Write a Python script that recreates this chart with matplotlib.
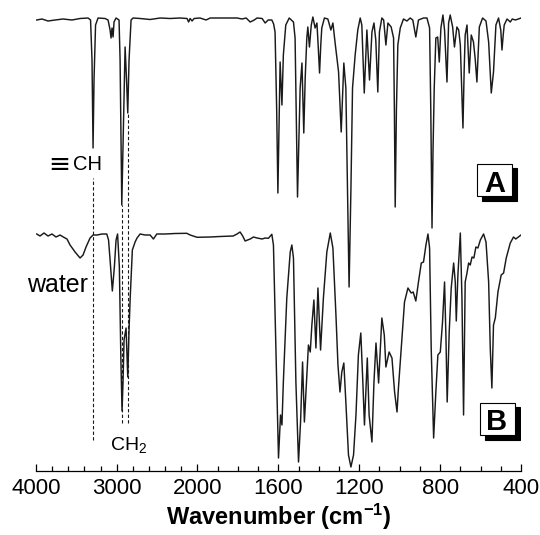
import numpy as np
import matplotlib
matplotlib.use("Agg")
import matplotlib.pyplot as plt
from matplotlib.patches import Rectangle
from matplotlib.ticker import FixedLocator, NullFormatter

# FTIR spectra (transmittance in arbitrary units, B below A)
A_wn = [3991, 3926, 3851, 3764, 3665, 3554, 3454, 3355, 3324, 3306,
        3293, 3281, 3262, 3231, 3144, 3107, 3082, 3070, 3058, 3045,
        3033, 3008, 2971, 2958, 2937, 2915, 2896, 2878, 2863, 2847,
        2822, 2797, 2710, 2586, 2462, 2338, 2214, 2128, 2109, 2090,
        2066, 2041, 1987, 1957, 1937, 1888, 1838, 1804, 1779, 1759,
        1739, 1719, 1705, 1680, 1665, 1650, 1632, 1623, 1616, 1608,
        1602, 1596, 1591, 1582, 1575, 1563, 1546, 1525, 1517, 1511,
        1505, 1498, 1492, 1483, 1474, 1467, 1459, 1454, 1446, 1437,
        1429, 1418, 1409, 1403, 1396, 1390, 1385, 1372, 1355, 1340,
        1330, 1319, 1302, 1289, 1276, 1266, 1258, 1250, 1241, 1233,
        1220, 1207, 1195, 1187, 1175, 1162, 1149, 1137, 1127, 1118,
        1108, 1100, 1088, 1079, 1068, 1058, 1042, 1030, 1026, 1022,
        1016, 1009, 997, 981, 964, 948, 935, 920, 907, 882,
        865, 852, 846, 840, 835, 829, 821, 812, 804, 796,
        786, 778, 766, 758, 750, 738, 729, 717, 708, 700,
        693, 687, 681, 676, 667, 656, 646, 635, 626, 618,
        606, 590, 573, 560, 547, 536, 524, 511, 500, 494,
        488, 483, 469, 453, 443, 428, 413, 400]
A_T = [451, 452, 450, 451, 452, 451, 452.5, 453, 451, 411,
       323, 391, 446, 453, 452.5, 451, 441, 433, 443, 434,
       449, 453, 451, 411, 266, 351, 424, 391, 358, 411,
       451, 453, 452.5, 451.5, 453, 452.5, 453, 452.5, 449, 452.5,
       450, 452.5, 453, 451, 453, 453, 453, 453, 452, 453,
       449, 451, 453, 452.5, 448, 451, 451, 447, 439, 361,
       278, 351, 409, 366, 416, 446, 453, 449, 433, 351,
       274, 331, 383, 408, 338, 393, 433, 444, 424, 446,
       454, 443, 448, 426, 398, 426, 443, 453, 452, 441,
       448, 428, 399, 339, 408, 383, 281, 184, 281, 383,
       416, 441, 453, 446, 378, 441, 391, 439, 448, 431,
       379, 439, 453, 451, 426, 448, 444, 433, 361, 264,
       361, 426, 443, 452, 450, 453, 451, 434, 451, 453,
       453, 443, 361, 243, 321, 383, 433, 434, 409, 443,
       456, 441, 389, 448, 456, 444, 424, 444, 441, 426,
       381, 343, 401, 436, 446, 398, 436, 429, 411, 389,
       444, 453, 450, 429, 378, 399, 446, 453, 441, 421,
       436, 446, 452, 449, 452, 451, 452, 453]

B_wn = [3991, 3950, 3901, 3851, 3802, 3752, 3702, 3662, 3616, 3578,
        3516, 3454, 3417, 3380, 3330, 3293, 3244, 3182, 3123, 3101,
        3082, 3054, 3029, 3008, 2989, 2967, 2948, 2934, 2921, 2909,
        2884, 2863, 2847, 2834, 2806, 2772, 2748, 2710, 2648, 2586,
        2545, 2503, 2400, 2276, 2131, 2090, 2003, 1937, 1888, 1823,
        1804, 1789, 1776, 1764, 1739, 1723, 1705, 1680, 1665, 1649,
        1632, 1624, 1612, 1599, 1589, 1582, 1575, 1558, 1541, 1533,
        1525, 1513, 1500, 1490, 1480, 1471, 1459, 1451, 1442, 1434,
        1424, 1414, 1404, 1391, 1377, 1360, 1343, 1330, 1315, 1305,
        1295, 1286, 1276, 1266, 1253, 1241, 1228, 1216, 1204, 1192,
        1182, 1174, 1160, 1151, 1137, 1127, 1117, 1104, 1088, 1076,
        1068, 1052, 1038, 1025, 1013, 1006, 992, 976, 959, 943,
        933, 920, 907, 893, 882, 870, 860, 852, 844, 832,
        821, 811, 799, 788, 778, 771, 765, 755, 745, 733,
        725, 720, 712, 700, 692, 684, 676, 667, 659, 651,
        642, 633, 623, 613, 601, 585, 573, 560, 552, 544,
        536, 527, 514, 498, 486, 473, 453, 437, 426, 413,
        400]
B_T = [237, 235, 238, 235, 237, 234, 236, 234, 232, 226,
       219, 213, 216, 224, 233, 236, 236, 237, 237, 231,
       211, 180, 204, 231, 237, 204, 111, 60, 91, 131,
       143, 94, 141, 171, 221, 229, 233, 237, 236, 236,
       232, 237, 237, 237.5, 237.7, 236, 233.7, 234, 234.5, 235,
       237, 239, 235, 230, 232, 234, 233, 232, 233, 232.7,
       236.7, 226, 123, 13, 56, 46, 89, 173, 219, 226,
       213, 89, 9, 49, 109, 49, 96, 126, 119, 146,
       171, 123, 183, 121, 173, 219, 238, 223, 156, 106,
       79, 99, 108, 69, 16, 4, 16, 56, 116, 138,
       89, 46, 113, 56, 29, 89, 128, 88, 153, 136,
       104, 119, 113, 79, 59, 83, 123, 169, 183, 178,
       179, 170, 189, 208, 209, 226, 237, 223, 123, 33,
       79, 116, 119, 149, 189, 133, 69, 139, 183, 208,
       189, 150, 196, 238, 173, 56, 189, 198, 208, 206,
       214, 213, 224, 223, 231, 237, 229, 189, 123, 83,
       146, 153, 179, 196, 198, 213, 228, 234, 232, 234,
       236]

# dashed guide lines: ≡CH and the two CH2 stretches
mark_wn = [3293, 2937, 2863]
mark_top = [293, 266, 358]
mark_bottom = [31, 48, 48]

major_ticks = [4000, 3000, 2000, 1600, 1200, 800, 400]
minor_ticks = [3800, 3600, 3400, 3200, 2800, 2600, 2400, 2200,
               1900, 1800, 1700, 1500, 1400, 1300, 1100, 1000, 900,
               700, 600, 500]

plt.rcParams['font.family'] = ['Liberation Sans', 'DejaVu Sans']
plt.rcParams['mathtext.fontset'] = 'custom'
plt.rcParams['mathtext.rm'] = 'Liberation Sans'
plt.rcParams['mathtext.it'] = 'Liberation Sans:italic'
plt.rcParams['mathtext.bf'] = 'Liberation Sans:bold'

# scale change at 2000 cm-1 (above it the axis is compressed)
K = 0.399


def fwd(w):
    w = np.asarray(w, dtype=float)
    return np.where(w > 2000, 2000 + (w - 2000) * K, w)


def inv(u):
    u = np.asarray(u, dtype=float)
    return np.where(u > 2000, 2000 + (u - 2000) / K, u)


fig = plt.figure(figsize=(5.4, 5.35), dpi=100)
ax = fig.add_axes([36 / 540, 64 / 535, 485 / 540, 466 / 535])

line_color = '#1a1a1a'
ax.plot(A_wn, A_T, color=line_color, lw=1.05)
ax.plot(B_wn, B_T, color=line_color, lw=1.05)
ax.vlines(mark_wn, mark_bottom, mark_top, colors=line_color,
          linestyles=(0, (3, 2)), lw=0.8)

ax.set_xscale('function', functions=(fwd, inv))
ax.set_xlim(4000, 400)
ax.set_ylim(0, 466)
ax.set_yticks([])
for side in ['left', 'right', 'top']:
    ax.spines[side].set_visible(False)
ax.spines['bottom'].set_linewidth(0.9)

ax.xaxis.set_major_locator(FixedLocator(major_ticks))
ax.set_xticks(major_ticks, labels=[str(t) for t in major_ticks])
ax.xaxis.set_minor_locator(FixedLocator(minor_ticks))
ax.xaxis.set_minor_formatter(NullFormatter())
ax.tick_params(axis='x', which='major', direction='in', length=5,
               width=0.9, labelsize=16, pad=5)
ax.tick_params(axis='x', which='minor', direction='in', length=3.5,
               width=0.9)
ax.set_xlabel(r'Wavenumber (cm$^{\mathbf{-1}}$)', fontsize=17,
              fontweight='bold', labelpad=2)

# annotations
ax.text(3850, 299, '≡', fontsize=19, family=['DejaVu Sans'],
        ha='left', va='baseline')
ax.text(3541, 301, 'CH', fontsize=14.5, ha='left', va='baseline')
ax.text(4112, 179, 'water', fontsize=18, ha='left', va='baseline')
ax.text(3082, 21, r'CH$_2$', fontsize=14, ha='left', va='baseline')

# boxed panel letters with drop shadow
boxes = [('A', 0.910, 0.590, 0.945, 0.599), ('B', 0.916, 0.077, 0.950, 0.088)]
for letter, bx, by, tx, ty in boxes:
    ax.add_patch(Rectangle((bx + 0.0093, by - 0.0097), 0.072, 0.069,
                           transform=ax.transAxes, fc='black', ec='black',
                           lw=0.8, zorder=3))
    ax.add_patch(Rectangle((bx, by), 0.072, 0.069, transform=ax.transAxes,
                           fc='white', ec='black', lw=0.8, zorder=4))
    ax.text(tx, ty, letter, transform=ax.transAxes, fontsize=21,
            fontweight='bold', ha='center', va='baseline', zorder=5)

fig.savefig('out.png', dpi=100)
